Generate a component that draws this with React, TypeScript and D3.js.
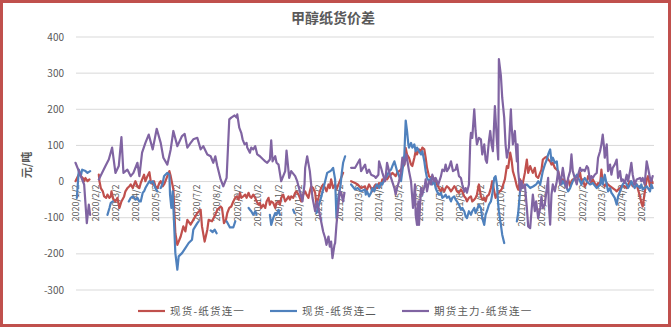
import React from 'react';
import * as d3 from 'd3';

const title = '甲醇纸货价差';
const yAxisTitle = '元/吨';
const yTicks = [400, 300, 200, 100, 0, -100, -200, -300];
const xTickLabels = [
  '2020/1/2', '2020/2/2', '2020/3/2', '2020/4/2', '2020/5/2', '2020/6/2', '2020/7/2', '2020/8/2',
  '2020/9/2', '2020/10/2', '2020/11/2', '2020/12/2', '2021/1/2', '2021/2/2', '2021/3/2', '2021/4/2',
  '2021/5/2', '2021/6/2', '2021/7/2', '2021/8/2', '2021/9/2', '2021/10/2', '2021/11/2', '2021/12/2',
  '2022/1/2', '2022/2/2', '2022/3/2', '2022/4/2', '2022/5/2',
];
const seriesNames = ['现货-纸货连一', '现货-纸货连二', '期货主力-纸货连一'];
const seriesColors = ['#C0504D', '#4F81BD', '#8064A2'];
const startDate = '2020/1/2';
const endDay = 869;

// [days after 2020/1/2, value]; null = gap (holidays / missing quotes)
type P = [number, number | null];

const spotVsPaper1: P[] = [
  [0,1],[6,24],[8,15],[11,10],[13,1],[15,10],[18,1],[21,6],[22,null],
  [35,19],[36,1],[38,-18],[41,-27],[43,-41],[46,-45],[48,-36],[51,-45],[53,-41],[54,-27],[57,-50],[60,-55],[63,-45],[66,-73],[69,-55],[73,-41],[75,-27],[78,-18],[81,-13],[83,-8],[86,-18],[88,-8],[90,1],[93,-13],[96,-18],[98,-4],[101,10],[103,19],[105,1],[108,15],[111,26],[113,1],[116,-8],[118,1],[120,-13],[123,-18],[126,-4],[128,1],[131,-13],[133,-8],[135,1],[138,15],[141,29],[143,15],[147,-22],[150,-143],[153,-175],[158,-152],[162,-124],[165,-138],[168,-106],[173,-119],[177,-106],[183,-87],[188,-78],[190,-124],[194,-166],[198,-133],[200,-106],[205,-110],[210,-92],[213,-78],[218,-69],[220,-73],[223,-115],[226,-106],[228,-87],[231,-73],[234,-69],[237,-55],[240,-45],[242,-41],[245,-50],[247,-31],[249,-45],[252,-41],[255,-36],[257,-45],[260,-31],[262,-41],[264,-45],[267,-36],[270,-45],[272,-55],[275,-64],[277,-59],[279,-73],[282,-64],[285,-73],[287,-55],[290,-45],[292,-64],[294,-55],[297,-59],[300,-73],[302,-59],[305,-55],[307,-64],[309,-45],[312,-36],[315,-55],[317,-50],[320,-41],[322,-50],[324,-41],[327,-45],[330,-31],[332,-27],[335,-36],[337,-45],[339,-55],[342,-36],[345,-27],[347,-36],[350,-45],[352,-27],[354,-13],[357,-18],[360,-31],[362,-64],[365,-45],[367,-27],[369,-18],[372,-8],[375,-18],[377,-27],[380,-8],[382,-18],[384,6],[387,-18],[390,-8],[392,-22],[395,-8],[397,1],[399,10],[402,24],[403,null],
  [414,1],[420,-4],[424,-8],[429,-18],[435,-13],[436,-27],[438,-22],[441,-8],[444,-18],[446,-27],[449,-13],[451,-8],[453,-18],[456,-4],[459,-8],[461,6],[464,1],[466,10],[468,6],[471,15],[474,19],[476,24],[479,19],[481,15],[483,24],[486,29],[489,33],[491,38],[494,47],[496,93],[498,75],[501,66],[504,47],[506,43],[509,66],[511,84],[513,75],[516,89],[519,84],[521,94],[524,89],[526,66],[528,38],[531,15],[534,10],[536,15],[539,6],[541,1],[543,-8],[546,-18],[549,-27],[551,-18],[554,-27],[556,-18],[558,-13],[561,-18],[564,-27],[566,-22],[569,-13],[571,-18],[573,-27],[576,-31],[579,-22],[581,-27],[584,-41],[586,-45],[588,-55],[591,-45],[594,-41],[596,-55],[599,-50],[601,-45],[603,-36],[606,-8],[609,-41],[611,-50],[614,-45],[616,-55],[618,-41],[621,-36],[624,-18],[626,1],[629,-27],[631,-45],[633,-36],[640,-22],[645,6],[648,43],[650,38],[653,80],[655,61],[657,29],[660,10],[663,-13],[665,-22],[668,6],[670,-13],[672,-4],[675,24],[678,61],[680,24],[683,43],[685,33],[687,24],[690,38],[692,15],[695,10],[698,24],[700,33],[702,61],[705,66],[708,69],[710,61],[713,56],[715,47],[717,52],[720,38],[723,33],[725,29],[728,6],[730,-4],[732,6],[735,1],[738,-4],[740,6],[743,-13],[745,1],[747,6],[750,6],[753,15],[755,10],[758,24],[760,1],[762,6],[765,-13],[768,-4],[770,15],[773,6],[775,-4],[777,6],[780,-4],[783,-13],[785,-4],[788,-8],[790,33],[792,-4],[795,-13],[798,-4],[800,-8],[803,-13],[807,-18],[810,-22],[813,-27],[815,-22],[818,-18],[820,-13],[822,-11],[825,-13],[828,-18],[830,-8],[833,1],[835,-4],[837,-13],[840,-4],[843,-8],[845,-22],[848,-41],[850,-59],[852,-69],[855,-31],[858,6],[860,15],[863,-13],[865,6],[867,-4],
];

const spotVsPaper2: P[] = [
  [2,-45],[5,33],[8,15],[10,33],[15,29],[18,24],[22,29],[23,null],
  [48,-92],[51,-73],[53,-59],[56,-55],[57,null],
  [80,-55],[83,-45],[86,-41],[88,-45],[90,-50],[93,-45],[96,-55],[98,-55],[101,-31],[103,-27],[105,-18],[108,-8],[111,1],[113,-4],[116,1],[118,-8],[120,-18],[123,-27],[124,null],
  [128,-18],[131,-4],[133,15],[135,19],[138,24],[141,19],[142,-36],[144,-73],[146,-27],[147,-69],[150,-198],[153,-244],[155,-207],[160,-198],[165,-184],[170,-170],[175,-161],[177,-133],[183,-115],[185,-110],[186,null],
  [203,-135],[206,-140],[209,-133],[212,-143],[213,null],
  [227,-110],[232,-127],[237,-127],[240,-110],[241,null],
  [260,-73],[262,-78],[264,-82],[267,-92],[270,-82],[272,-92],[273,null],
  [292,-92],[294,-120],[297,-101],[300,-87],[302,-92],[305,-78],[307,-92],[308,null],
  [327,-78],[329,-87],[330,null],
  [362,-87],[368,-50],[372,-22],[378,24],[383,29],[385,33],[387,38],[390,6],[392,-101],[395,-41],[398,-13],[400,24],[402,52],[405,70],[406,null],
  [414,-8],[420,-22],[424,-18],[429,-27],[435,-22],[436,-36],[438,-27],[441,-41],[444,-31],[446,-18],[449,-27],[451,-13],[453,-8],[456,-18],[459,-4],[461,-8],[464,6],[466,10],[468,15],[471,29],[474,33],[476,43],[479,56],[481,43],[483,29],[486,15],[489,1],[491,29],[494,75],[496,169],[498,140],[500,103],[501,94],[504,107],[506,94],[509,103],[511,84],[513,94],[516,84],[519,75],[521,84],[524,56],[526,29],[528,10],[531,1],[534,10],[536,-8],[539,1],[541,-18],[543,-27],[546,-36],[549,-31],[551,-45],[554,-41],[556,-36],[558,-45],[561,-41],[564,-55],[566,-45],[569,-41],[571,-50],[573,-55],[576,-64],[579,-78],[581,-73],[584,-82],[586,-96],[588,-101],[591,-82],[594,-92],[596,-82],[599,-73],[601,-87],[603,-78],[606,-64],[609,-73],[611,-101],[614,-120],[616,-92],[618,-82],[621,-64],[624,-55],[626,-36],[629,10],[631,15],[633,-8],[635,-64],[636,-82],[639,-120],[641,-147],[644,-170],[645,null],
  [663,-110],[665,-87],[668,-22],[672,-13],[678,-8],[683,-18],[688,-13],[692,-8],[695,1],[698,-8],[700,10],[702,29],[705,47],[708,61],[710,75],[713,89],[715,56],[717,66],[720,52],[723,56],[725,19],[728,10],[730,-8],[732,1],[735,-8],[738,-18],[740,-27],[743,-18],[745,-8],[747,1],[750,10],[753,19],[755,10],[758,1],[760,-8],[762,1],[765,10],[768,1],[773,-8],[777,-4],[783,-18],[788,-8],[790,10],[792,-8],[795,19],[798,-8],[800,-27],[803,-18],[805,-31],[807,-36],[810,-45],[813,-64],[815,-41],[818,-27],[820,-18],[822,-8],[825,1],[828,-8],[830,-18],[833,-8],[835,1],[837,-8],[840,-18],[843,-8],[845,-13],[848,-18],[850,-8],[852,-22],[855,-18],[858,-13],[860,-18],[863,-27],[865,-8],[867,-18],
];

const futuresVsPaper1: P[] = [
  [0,52],[5,29],[9,10],[13,-8],[17,-115],[20,-64],[22,-92],[23,null],
  [35,6],[45,43],[50,61],[55,94],[60,24],[65,43],[69,123],[72,24],[78,33],[83,15],[87,24],[93,52],[96,15],[100,80],[105,107],[110,130],[116,89],[122,146],[128,107],[132,66],[138,47],[143,89],[147,140],[153,98],[160,126],[164,132],[168,94],[173,107],[177,117],[183,121],[188,89],[192,98],[198,75],[203,70],[207,52],[210,70],[213,43],[218,6],[222,-13],[227,10],[231,172],[234,177],[239,183],[242,177],[243,186],[246,149],[249,135],[251,117],[254,103],[257,107],[258,94],[262,80],[264,94],[267,89],[270,98],[273,75],[277,70],[282,61],[285,56],[288,52],[292,61],[294,114],[296,56],[300,70],[302,52],[305,47],[309,1],[312,15],[315,29],[317,86],[321,10],[324,29],[330,15],[333,1],[337,-27],[341,-55],[344,-8],[345,38],[348,70],[352,29],[356,-45],[360,-82],[363,-55],[367,-92],[372,-138],[375,-156],[377,-175],[380,-152],[382,-180],[384,-166],[386,-212],[389,-175],[390,-170],[392,-119],[395,-64],[397,-27],[399,-31],[402,-55],[404,-31],[405,null],
  [414,38],[420,38],[427,61],[429,29],[435,47],[436,38],[438,24],[441,33],[444,19],[449,15],[451,10],[455,19],[456,56],[459,38],[461,24],[465,1],[466,15],[468,52],[471,29],[474,10],[479,-18],[481,-36],[483,-18],[486,1],[489,29],[491,66],[494,47],[497,75],[501,29],[504,1],[507,-73],[510,-8],[511,-92],[513,-120],[515,-55],[516,-120],[519,-18],[521,-36],[525,-8],[526,6],[528,-27],[531,1],[534,-8],[536,19],[539,1],[541,10],[545,-8],[549,15],[551,33],[554,29],[556,47],[558,29],[561,38],[564,56],[567,29],[571,33],[573,47],[576,15],[579,10],[581,-8],[584,-27],[586,-18],[588,-31],[591,-8],[593,112],[594,135],[596,121],[599,200],[601,140],[603,103],[606,121],[609,117],[611,75],[614,103],[616,61],[618,52],[621,112],[623,140],[625,103],[627,84],[630,209],[633,112],[635,61],[636,339],[639,293],[641,232],[644,177],[646,103],[648,66],[651,94],[654,200],[655,158],[657,103],[660,140],[663,56],[664,103],[665,29],[668,-27],[670,1],[672,-18],[675,-8],[678,-73],[680,-124],[683,-129],[685,-82],[687,-36],[690,-82],[692,-55],[695,-101],[698,-73],[700,-41],[702,-73],[705,-64],[708,-18],[710,10],[711,-64],[713,-119],[715,-36],[717,-8],[720,-27],[723,1],[725,29],[728,-8],[730,10],[732,38],[735,1],[738,-18],[740,10],[743,29],[745,75],[747,29],[750,10],[753,-8],[755,19],[758,38],[760,29],[762,33],[765,29],[768,43],[770,38],[773,1],[775,15],[777,10],[780,19],[783,24],[785,66],[788,84],[790,103],[792,130],[794,94],[795,66],[798,103],[800,29],[803,47],[805,19],[807,38],[810,47],[813,61],[815,10],[818,29],[820,1],[822,6],[825,-4],[828,19],[830,1],[833,29],[835,52],[837,19],[840,-8],[843,6],[848,10],[850,1],[852,10],[855,-8],[858,56],[860,38],[863,10],[865,1],[867,15],
];

const allSeries = [spotVsPaper1, spotVsPaper2, futuresVsPaper1];

const W = 671;
const H = 327;
const FONT = '"Noto Sans CJK SC", "Liberation Sans", sans-serif';
const TEXT = '#595959';

export default function App() {
  const parse = d3.timeParse('%Y/%m/%d');
  const start = parse(startDate) as Date;
  const x = d3
    .scaleTime()
    .domain([start, d3.timeDay.offset(start, endDay)])
    .range([75.5, 654]);
  const y = d3.scaleLinear().domain([-300, 400]).range([290, 37]);

  const line = d3
    .line<P>()
    .defined((d) => d[1] !== null)
    .x((d) => x(d3.timeDay.offset(start, d[0])))
    .y((d) => y(d[1] as number));

  const legendX = [138, 270, 402];

  return (
    <svg
      width={W}
      height={H}
      style={{ position: 'absolute', left: 0, top: 0, display: 'block', background: '#fff' }}
    >
      <rect x={1.5} y={1.5} width={W - 3} height={H - 3} fill="#fff" stroke="#C0504D" strokeWidth={3} />
      <text x={333} y={23} textAnchor="middle" fontFamily={FONT} fontSize={14} fontWeight="bold" fill={TEXT}>
        {title}
      </text>
      {yTicks.map((t) => (
        <g key={t}>
          <line x1={76} x2={654} y1={y(t)} y2={y(t)} stroke="#D9D9D9" strokeWidth={1} />
          <text x={64} y={y(t)} dy="0.35em" textAnchor="end" fontFamily={FONT} fontSize={10} fill={TEXT}>
            {t}
          </text>
        </g>
      ))}
      <text
        transform={`translate(27,165) rotate(-90)`}
        textAnchor="middle"
        dy="0.35em"
        fontFamily={FONT}
        fontSize={11}
        fontWeight="bold"
        fill={TEXT}
      >
        {yAxisTitle}
      </text>
      {xTickLabels.map((lbl) => {
        const tx = x(parse(lbl) as Date);
        return (
          <text
            key={lbl}
            transform={`translate(${tx},${y(0) + 3}) rotate(-90)`}
            textAnchor="end"
            dy="0.35em"
            fontFamily={FONT}
            fontSize={9}
            fill={TEXT}
          >
            {lbl}
          </text>
        );
      })}
      {allSeries.map((s, i) => (
        <path
          key={i}
          d={line(s) || ''}
          fill="none"
          stroke={seriesColors[i]}
          strokeWidth={2.2}
          strokeLinejoin="round"
          strokeLinecap="round"
        />
      ))}
      {seriesNames.map((n, i) => (
        <g key={n}>
          <line x1={legendX[i]} x2={legendX[i] + 27} y1={311} y2={311} stroke={seriesColors[i]} strokeWidth={2.2} />
          <text
            x={legendX[i] + 32}
            y={311}
            dy="0.35em"
            fontFamily={FONT}
            fontSize={10.5}
            letterSpacing={1.2}
            fill={TEXT}
          >
            {n}
          </text>
        </g>
      ))}
    </svg>
  );
}
